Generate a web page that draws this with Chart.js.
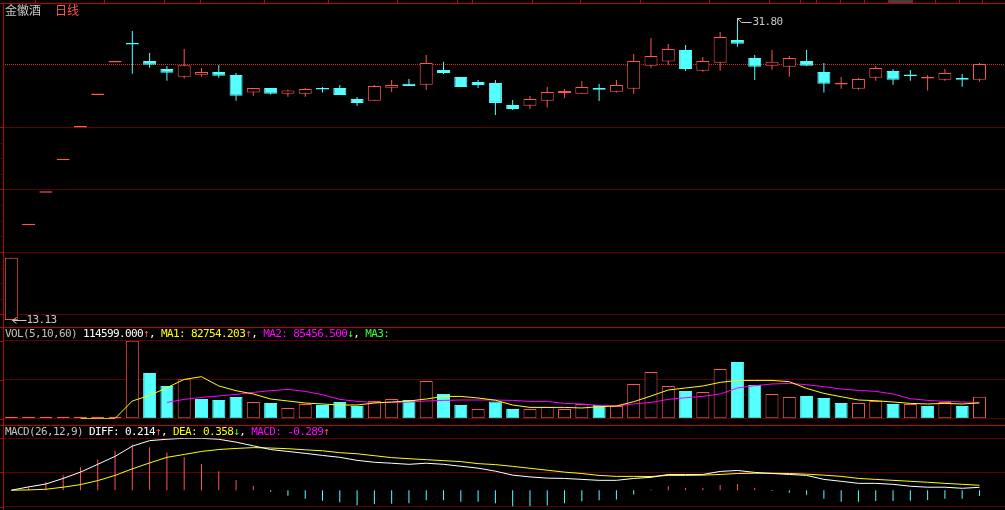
<!DOCTYPE html>
<html>
<head>
<meta charset="utf-8">
<script src="https://cdn.jsdelivr.net/npm/chart.js@4.4.1/dist/chart.umd.min.js"></script>
<style>
  html, body { margin: 0; padding: 0; background: #000; }
  #wrap { position: relative; width: 1005px; height: 510px; overflow: hidden; background: #000; }
  canvas { position: absolute; left: 0; }
  .hline { position: absolute; left: 0; width: 1005px; height: 1px; background: #c00000; }
  .vline { position: absolute; left: 3px; top: 3px; width: 1px; height: 507px; background: #c00000; }
  .tab { position: absolute; top: 0; width: 1px; height: 3px; background: #c00000; }
  .cjk { position: absolute; font-family: "Noto Sans CJK SC", sans-serif; font-size: 12px; line-height: 13px; white-space: pre; }
  .hdr { position: absolute; left: 5px; font-family: "DejaVu Sans Mono", monospace; font-size: 11px;
         letter-spacing: -0.62px; line-height: 12px; white-space: pre; color: #fff; }
</style>
</head>
<body>
<div id="wrap">
  <canvas id="kline" width="1005" height="327" style="top:0"></canvas>
  <canvas id="vol" width="1005" height="98" style="top:327px"></canvas>
  <canvas id="macd" width="1005" height="85" style="top:425px"></canvas>
  <div id="tabs"></div>
  <div class="hline" style="top:3px"></div>
  <div class="hline" style="top:327px"></div>
  <div class="hline" style="top:425px"></div>
  <div class="vline"></div>
  <span class="cjk" style="left:5px;top:3px;color:#c8c8c8">金徽酒</span>
  <span class="cjk" style="left:55px;top:3px;color:#ff5454">日线</span>
  <div class="hdr" style="top:328px"><span style="color:#c0c0c0">VOL(5,10,60)</span> 114599.000<span style="color:#ff5454">↑</span>, <span style="color:#ffff00">MA1: 82754.203</span><span style="color:#ff5454">↑</span>, <span style="color:#ff00ff">MA2: 85456.500</span><span style="color:#33ff33">↓</span>, <span style="color:#33ff33">MA3:</span></div>
  <div class="hdr" style="top:426px"><span style="color:#c0c0c0">MACD(26,12,9)</span> DIFF: 0.214<span style="color:#ff5454">↑</span>, <span style="color:#ffff00">DEA: 0.358</span><span style="color:#33ff33">↓</span>, <span style="color:#ff00ff">MACD: -0.289</span><span style="color:#ff5454">↑</span></div>
</div>
<script>
// daily bars, oldest first
const opens = [13.13, 17.33, 19.06, 20.97, 23.07, 25.38, 27.92, 29.59, 28.04, 27.39,
  26.78, 26.94, 27.15, 26.92, 25.56, 25.91, 25.48, 25.48, 25.82, 25.91,
  25.09, 24.96, 25.93, 26.24, 26.16, 27.31, 26.76, 26.37, 26.29, 24.65,
  24.60, 24.96, 25.53, 25.48, 25.91, 25.63, 25.86, 27.66, 28.00, 28.96,
  27.26, 27.90, 29.82, 28.29, 27.66, 27.58, 28.04, 27.15, 26.17, 25.86,
  26.70, 27.23, 26.86, 26.63, 26.55, 26.68, 26.55];
const highs = [15.75, 17.33, 19.06, 20.97, 23.07, 25.38, 27.92, 30.62, 28.71, 27.64,
  29.05, 27.47, 27.72, 27.07, 25.91, 25.91, 25.78, 25.91, 25.99, 26.14,
  25.24, 26.14, 26.53, 26.60, 28.54, 27.97, 26.76, 26.53, 26.53, 25.02,
  25.31, 25.99, 25.84, 26.45, 26.22, 26.53, 28.63, 30.00, 29.48, 29.39,
  28.37, 30.53, 31.80, 28.54, 28.96, 28.46, 28.96, 27.88, 26.76, 26.68,
  27.64, 27.39, 27.31, 26.92, 27.39, 27.00, 27.88];
const lows = [13.13, 17.33, 19.06, 20.97, 23.07, 25.38, 27.92, 27.02, 27.50, 26.47,
  26.63, 26.78, 26.70, 24.96, 25.33, 25.41, 25.26, 25.26, 25.56, 25.38,
  24.58, 24.96, 25.61, 26.06, 25.76, 27.00, 25.99, 25.91, 23.94, 24.29,
  24.37, 24.46, 25.16, 25.48, 24.94, 25.56, 25.48, 27.50, 27.74, 27.23,
  27.18, 27.26, 29.24, 26.53, 27.34, 26.78, 27.66, 25.56, 25.86, 25.78,
  26.47, 26.16, 26.47, 25.71, 26.47, 26.01, 26.39];
const closes = [15.75, 17.33, 19.06, 20.97, 23.07, 25.38, 27.92, 29.42, 27.74, 27.10,
  27.69, 27.15, 26.86, 25.33, 25.91, 25.48, 25.71, 25.84, 25.79, 25.38,
  24.80, 26.06, 26.14, 26.06, 27.88, 27.07, 25.99, 26.14, 24.80, 24.37,
  25.09, 25.61, 25.68, 25.99, 25.78, 26.14, 28.04, 28.46, 29.05, 27.39,
  28.04, 30.09, 29.50, 27.58, 27.97, 28.29, 27.66, 26.24, 26.19, 26.60,
  27.47, 26.55, 26.84, 26.76, 27.07, 26.55, 27.80];

const volumes = [2600, 500, 700, 600, 900, 1200, 1800, 409500, 239900, 171700,
  206800, 103400, 98200, 113900, 87700, 82400, 56200, 77200, 71900, 87700,
  66700, 92900, 103400, 98200, 197900, 129700, 71900, 50900, 90300, 50900,
  50900, 61400, 50900, 77200, 71900, 66700, 182200, 245200, 171700, 145400,
  140200, 260900, 297700, 176900, 129700, 113900, 119200, 108700, 82400, 82400,
  92900, 77200, 77200, 66700, 87700, 66700, 114599];
const volMa1 = [null, null, null, null, 1100, 800, 1000, 92900, 122300, 162800,
  206300, 220500, 172000, 147000, 129700, 103400, 92900, 82400, 77200, 71900,
  71900, 82400, 87700, 92900, 103400, 117100, 117100, 108700, 97100, 71900,
  59300, 59300, 59300, 56200, 63000, 66700, 89300, 119200, 150700, 161200,
  171700, 190600, 201100, 201100, 201100, 194300, 159100, 132800, 115500, 98200,
  94500, 87700, 80300, 77200, 80300, 77200, 82754.203];
const volMa2 = [null, null, null, null, null, null, null, null, null, 85600,
  101300, 111800, 119200, 127600, 138100, 147000, 153800, 143300, 126000, 101300,
  90800, 85600, 85600, 87700, 92900, 96100, 98200, 98200, 98200, 96100,
  90800, 90800, 80300, 77200, 69800, 66700, 77200, 85600, 101300, 110300,
  117100, 129700, 161200, 173300, 182200, 185300, 178500, 168000, 155900, 148600,
  143300, 129700, 105000, 96100, 90800, 87700, 85456.5];

const diff = [0, 0.24, 0.45, 0.86, 1.32, 1.89, 2.47, 3.22, 3.62, 3.72,
  3.79, 3.79, 3.72, 3.51, 3.24, 2.97, 2.83, 2.69, 2.54, 2.40,
  2.18, 2.04, 1.97, 1.89, 1.97, 1.89, 1.75, 1.61, 1.39, 1.10,
  0.97, 0.88, 0.86, 0.79, 0.72, 0.72, 0.86, 0.94, 1.15, 1.15,
  1.15, 1.37, 1.44, 1.30, 1.22, 1.15, 1.08, 0.79, 0.65, 0.50,
  0.50, 0.43, 0.29, 0.22, 0.22, 0.14, 0.21];
const dea = [0, 0.02, 0.07, 0.22, 0.41, 0.70, 1.08, 1.56, 1.99, 2.40,
  2.61, 2.83, 2.97, 3.05, 3.11, 3.08, 3.03, 2.95, 2.88, 2.74,
  2.66, 2.52, 2.38, 2.30, 2.23, 2.16, 2.09, 1.94, 1.87, 1.74,
  1.60, 1.46, 1.32, 1.22, 1.08, 1.01, 1.01, 1.00, 1.08, 1.08,
  1.10, 1.15, 1.22, 1.24, 1.24, 1.22, 1.17, 1.10, 1.01, 0.86,
  0.79, 0.72, 0.65, 0.58, 0.50, 0.43, 0.36];
const macd = [0, 0.27, 0.60, 1.10, 1.68, 2.25, 2.89, 3.33, 3.13, 2.76,
  2.40, 1.91, 1.39, 0.74, 0.31, -0.12, -0.40, -0.63, -0.77, -0.88,
  -1.09, -1.02, -0.99, -0.95, -0.73, -0.73, -0.84, -0.84, -0.95, -1.19,
  -1.19, -1.12, -0.96, -0.81, -0.74, -0.67, -0.31, 0.05, 0.31, 0.17,
  0.17, 0.38, 0.45, 0.17, -0.05, -0.19, -0.34, -0.63, -0.85, -0.85,
  -0.78, -0.78, -0.77, -0.71, -0.63, -0.63, -0.42];

// price levels of the horizontal grid lines (log axis)
const priceGrid = [13.35, 16.01, 19.26, 23.09];

const RED = '#ff5454', CYAN = '#54ffff', GRID = '#5c0000', AXIS = '#c00000';
const n = closes.length;
const idx = closes.map((c, i) => i);
const up = idx.map(i => closes[i] >= opens[i]);
const volUp = idx.map(i => i === 0 ? up[0] : closes[i] >= closes[i - 1]);
const pts = arr => idx.map(i => ({ x: i, y: arr[i] }));

// little marks of the window's tab strip above the chart
[35, 104, 164, 200, 264, 328, 397, 457, 472, 532, 580, 640, 709, 769, 800, 816,
 840, 864, 888, 912, 935, 959, 982].forEach(x => {
  const d = document.createElement('div');
  d.className = 'tab';
  d.style.left = x + 'px';
  document.getElementById('tabs').appendChild(d);
});
const block = document.createElement('div');
block.style.cssText = 'position:absolute;left:889px;top:0;width:23px;height:3px;background:#404040';
document.getElementById('tabs').appendChild(block);

const xAxis = () => ({ type: 'linear', display: false, offset: false, min: -0.48, max: n - 1 + 1.476 });
const yAxis = extra => Object.assign({
  ticks: { display: false },
  grid: { color: GRID, drawTicks: false },
  border: { display: false }
}, extra);
const baseOpts = padding => ({
  responsive: false, animation: false, devicePixelRatio: 1,
  layout: { padding },
  plugins: { legend: { display: false }, tooltip: { enabled: false } }
});

// short tick marks left of the axis line, with dots between grid lines
const axisTicks = minor => ({
  id: 'axisTicks',
  afterDraw(chart) {
    const { ctx } = chart;
    const ys = chart.scales.y.ticks.map(t => Math.round(chart.scales.y.getPixelForValue(t.value)));
    ctx.save();
    ctx.fillStyle = AXIS;
    ys.forEach(y => ctx.fillRect(0, y, 3, 1));
    if (minor) {
      ys.sort((a, b) => a - b);
      for (let k = 0; k + 1 < ys.length; k++) {
        for (let j = 1; j < 4; j++) ctx.fillRect(1, Math.round(ys[k] + (ys[k + 1] - ys[k]) * j / 4), 1, 1);
      }
    }
    ctx.restore();
  }
});

// last close dotted line + highest / lowest markers
const priceMarks = {
  id: 'priceMarks',
  beforeDatasetsDraw(chart) {
    const { ctx, chartArea, scales } = chart;
    const y = Math.round(scales.y.getPixelForValue(closes[n - 1]));
    ctx.save();
    ctx.fillStyle = '#ff1a1a';
    for (let x = Math.ceil(chartArea.left); x < chartArea.right; x += 2) ctx.fillRect(x, y, 1, 1);
    ctx.restore();
  },
  afterDatasetsDraw(chart) {
    const { ctx, scales } = chart;
    const hi = highs.indexOf(Math.max(...highs));
    const lo = lows.indexOf(Math.min(...lows));
    ctx.save();
    ctx.strokeStyle = '#c8c8c8';
    ctx.fillStyle = '#c8c8c8';
    ctx.lineWidth = 1;
    ctx.font = '11px "DejaVu Sans Mono"';
    if ('letterSpacing' in ctx) ctx.letterSpacing = '-0.6px';
    ctx.textBaseline = 'middle';

    let x = Math.round(scales.x.getPixelForValue(hi)) + 0.5;
    let y = Math.round(scales.y.getPixelForValue(highs[hi])) + 0.5;
    ctx.beginPath();
    ctx.moveTo(x + 4, y); ctx.lineTo(x, y); ctx.lineTo(x, y + 4);
    ctx.moveTo(x, y); ctx.lineTo(x + 4, y + 4); ctx.lineTo(x + 14, y + 4);
    ctx.stroke();
    ctx.fillText(highs[hi].toFixed(2), x + 15, y + 4);

    x = Math.round(scales.x.getPixelForValue(lo)) + 0.5;
    y = Math.round(scales.y.getPixelForValue(lows[lo])) + 0.5;
    ctx.beginPath();
    ctx.moveTo(x + 5, y - 3); ctx.lineTo(x + 1, y); ctx.lineTo(x + 5, y + 3);
    ctx.moveTo(x + 1, y); ctx.lineTo(x + 15, y);
    ctx.stroke();
    ctx.fillText(lows[lo].toFixed(2), x + 15, y);
    ctx.restore();
  }
};

new Chart(document.getElementById('kline'), {
  type: 'bar',
  data: {
    datasets: [
      {
        // candle bodies
        data: idx.map(i => ({ x: i, y: [opens[i], closes[i]] })),
        backgroundColor: idx.map(i => up[i] ? '#000' : CYAN),
        borderColor: idx.map(i => up[i] ? RED : CYAN),
        borderWidth: 1, borderSkipped: false, inflateAmount: 0,
        barThickness: 13, minBarLength: 1.5, grouped: false, order: 1
      },
      {
        // wicks
        data: idx.map(i => ({ x: i, y: [lows[i], highs[i]] })),
        backgroundColor: idx.map(i => up[i] ? RED : CYAN),
        borderWidth: 0, inflateAmount: 0,
        barThickness: 1, grouped: false, order: 2
      }
    ]
  },
  options: Object.assign(baseOpts({ left: 3, right: 0, top: 0, bottom: 0 }), {
    scales: {
      x: xAxis(),
      y: yAxis({
        type: 'logarithmic', min: 12.86, max: 33.53,
        afterBuildTicks: s => { s.ticks = priceGrid.map(v => ({ value: v })); }
      })
    }
  }),
  plugins: [priceMarks, axisTicks(true)]
});

new Chart(document.getElementById('vol'), {
  type: 'bar',
  data: {
    datasets: [
      { type: 'line', data: pts(volMa1), borderColor: '#ffff00', borderWidth: 1, pointRadius: 0, tension: 0, order: 1 },
      { type: 'line', data: pts(volMa2), borderColor: '#ff00ff', borderWidth: 1, pointRadius: 0, tension: 0, order: 1 },
      {
        data: pts(volumes),
        backgroundColor: idx.map(i => volUp[i] ? '#000' : CYAN),
        borderColor: idx.map(i => volUp[i] ? RED : CYAN),
        borderWidth: 1, borderSkipped: false, inflateAmount: 0,
        barThickness: 13, minBarLength: 2, order: 2
      }
    ]
  },
  options: Object.assign(baseOpts({ left: 3, right: 0, top: 13.7, bottom: 6.3 }), {
    scales: {
      x: xAxis(),
      y: yAxis({ min: 0, max: Math.max(...volumes), ticks: { display: false, count: 3 } })
    }
  }),
  plugins: [axisTicks(false)]
});

new Chart(document.getElementById('macd'), {
  type: 'bar',
  data: {
    datasets: [
      { type: 'line', data: pts(diff), borderColor: '#ffffff', borderWidth: 1, pointRadius: 0, tension: 0, order: 1 },
      { type: 'line', data: pts(dea), borderColor: '#ffff00', borderWidth: 1, pointRadius: 0, tension: 0, order: 1 },
      {
        data: pts(macd),
        backgroundColor: macd.map(v => v >= 0 ? RED : CYAN),
        borderWidth: 0, inflateAmount: 0, barThickness: 1, order: 2
      }
    ]
  },
  options: Object.assign(baseOpts({ left: 3, right: 0, top: 13.3, bottom: 3.5 }), {
    scales: {
      x: xAxis(),
      y: yAxis({
        min: Math.min(...diff, ...dea, ...macd),
        max: Math.max(...diff, ...dea, ...macd),
        ticks: { display: false, count: 3 }
      })
    }
  }),
  plugins: [axisTicks(false)]
});
</script>
</body>
</html>
